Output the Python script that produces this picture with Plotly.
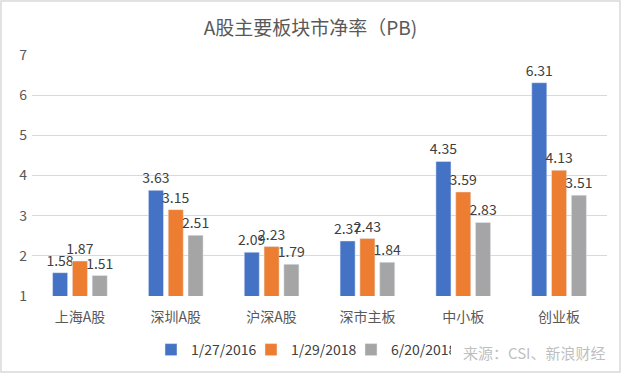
import plotly.graph_objects as go

categories = ["上海A股", "深圳A股", "沪深A股", "深市主板", "中小板", "创业板"]
series_names = ["1/27/2016", "1/29/2018", "6/20/2018"]
v_2016 = [1.58, 3.63, 2.09, 2.37, 4.35, 6.31]
v_2018a = [1.87, 3.15, 2.23, 2.43, 3.59, 4.13]
v_2018b = [1.51, 2.51, 1.79, 1.84, 2.83, 3.51]
colors = ["#4472C4", "#ED7D31", "#A5A5A5"]
y_ticks = [1, 2, 3, 4, 5, 6, 7]

FONT = "Noto Sans CJK SC"
W, H = 621, 373
ML, MR, MT, MB = 32, 14, 55, 77
PW, PH = W - ML - MR, H - MT - MB

fig = go.Figure()
for name, vals, c in zip(series_names, [v_2016, v_2018a, v_2018b], colors):
    fig.add_trace(go.Bar(
        x=categories, y=vals, name=name, marker_color=c,
        text=[f"{v:.2f}" for v in vals], textposition="outside",
        textfont=dict(size=14, color="#404040", family=FONT),
        constraintext="none", cliponaxis=False,
    ))

fig.update_layout(
    width=W, height=H,
    margin=dict(l=ML, r=MR, t=MT, b=MB, autoexpand=False),
    paper_bgcolor="white", plot_bgcolor="white",
    barmode="group", bargap=0.38, bargroupgap=0.24,
    font=dict(family=FONT, color="#595959", size=14),
    title=dict(text="A股主要板块市净率（PB)", x=0.5, xanchor="center",
               y=1 - 28 / H, yanchor="middle",
               font=dict(size=19, color="#595959", family=FONT)),
    xaxis=dict(showgrid=False, showline=False, ticks="", ticklabelstandoff=11,
               tickfont=dict(size=14, color="#595959")),
    yaxis=dict(range=[1, 7], tickvals=y_ticks, showgrid=True, gridcolor="#D9D9D9",
               gridwidth=1, zeroline=False, showline=False, ticks="",
               ticklabelstandoff=4,
               tickfont=dict(size=14, color="#595959")),
    legend=dict(orientation="h", x=(151 - ML) / PW, xanchor="left",
                y=-(350 - (MT + PH)) / PH,
                yanchor="middle", font=dict(size=14, color="#404040"),
                bgcolor="rgba(0,0,0,0)", entrywidth=55, entrywidthmode="pixels",
                traceorder="normal", itemwidth=30),
    annotations=[dict(text="来源：CSI、新浪财经", xref="paper", yref="paper",
                      x=(534 - ML) / PW, y=-(352 - (MT + PH)) / PH,
                      xanchor="center", yanchor="middle", showarrow=False,
                      font=dict(size=15, color="#BFBFBF", family=FONT))],
    shapes=[dict(type="rect", xref="paper", yref="paper",
                 x0=-(ML - 1) / PW, x1=1 + (MR - 1) / PW,
                 y0=-(MB - 1) / PH, y1=1 + (MT - 1) / PH,
                 line=dict(color="#D9D9D9", width=1.5), layer="below")],
)

fig.write_html("out.html", config={"displayModeBar": False},
               post_script="document.body.style.margin='0';")
